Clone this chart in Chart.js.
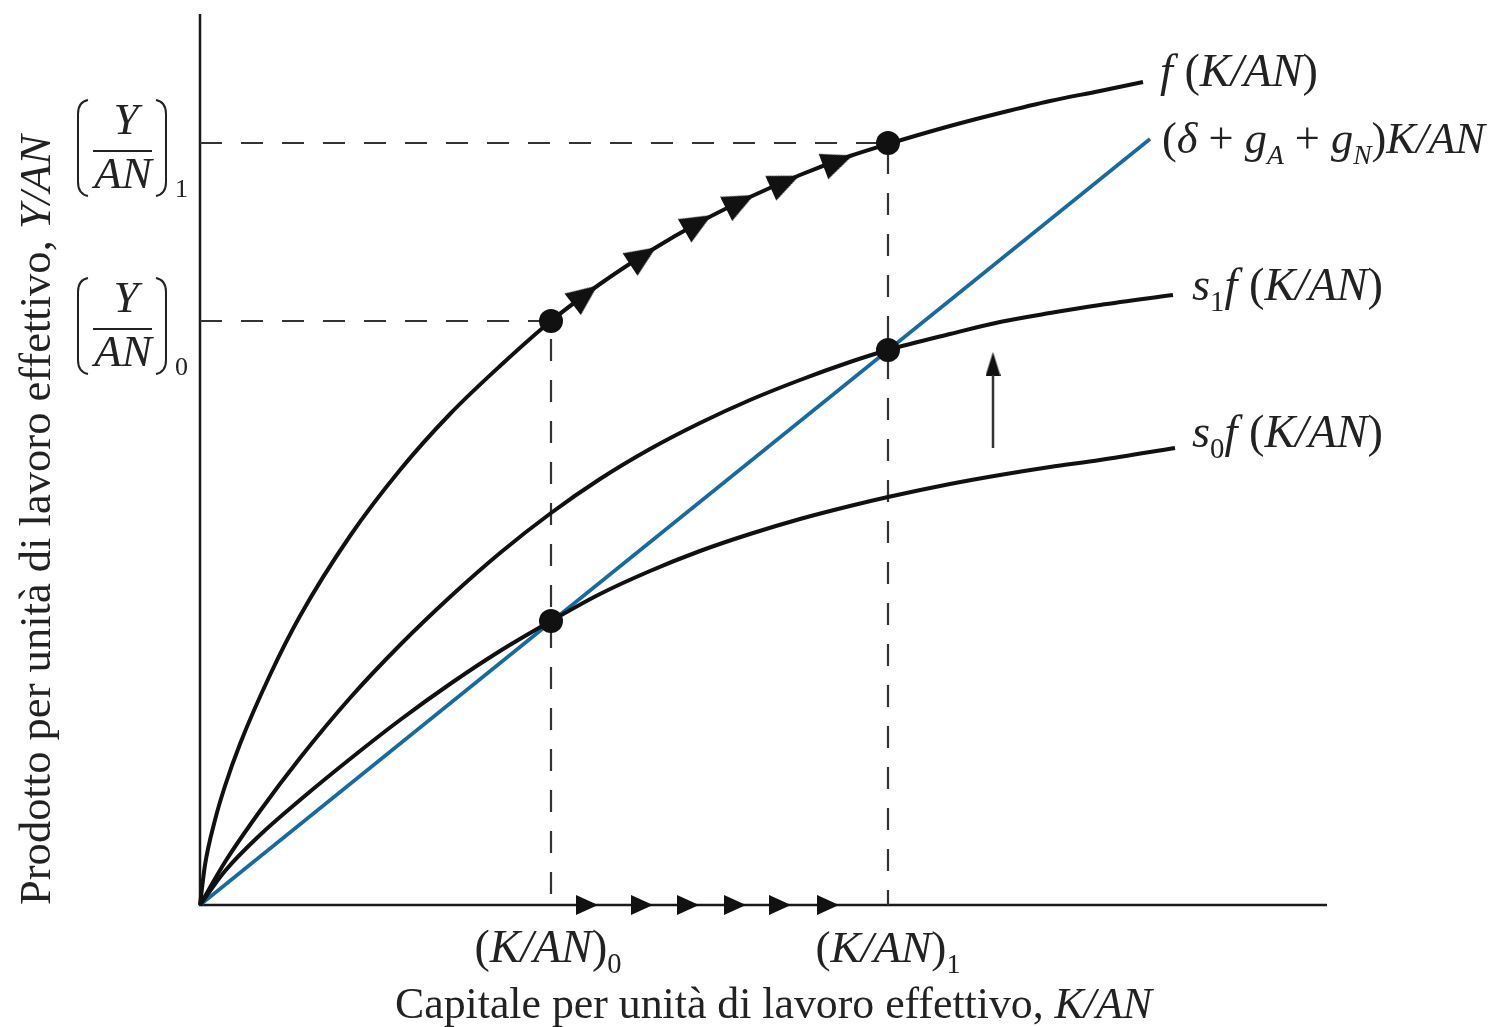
<!DOCTYPE html>
<html>
<head>
<meta charset="utf-8">
<script src="https://cdn.jsdelivr.net/npm/chart.js@4/dist/chart.umd.min.js"></script>
<style>
html,body{margin:0;padding:0;background:#fff;}
#wrap{width:1491px;height:1027px;position:relative;}
</style>
</head>
<body>
<div id="wrap"><canvas id="c"></canvas></div>
<script>
// ---------- data ----------
const fX  = [0, 0.05, 0.15, 0.25, 0.40, 0.70, 1.00, 1.50, 2.00, 2.50, 3.00, 3.51, 4.00, 4.50, 5.00, 5.50, 6.00, 6.50, 6.88, 7.50, 8.00, 8.50, 9.00, 9.43];
const fY  = [0, 0.40, 0.85, 1.19, 1.61, 2.30, 2.89, 3.69, 4.35, 4.91, 5.39, 5.84, 6.21, 6.54, 6.83, 7.08, 7.30, 7.49, 7.61, 7.79, 7.92, 8.04, 8.14, 8.23];
const s1X = [0, 0.25, 0.60, 1.00, 1.50, 2.00, 2.50, 3.00, 3.51, 4.00, 4.50, 5.00, 5.50, 6.00, 6.50, 6.88, 7.50, 8.00, 8.50, 9.00, 9.73];
const s1Y = [0, 0.43, 0.94, 1.47, 2.07, 2.60, 3.08, 3.52, 3.92, 4.26, 4.56, 4.82, 5.05, 5.25, 5.43, 5.55, 5.71, 5.83, 5.92, 6.00, 6.10];
const s0X = [0, 0.25, 0.60, 1.00, 1.50, 2.00, 2.50, 3.00, 3.51, 4.00, 4.50, 5.00, 5.50, 6.00, 6.50, 6.88, 7.50, 8.00, 8.50, 9.00, 9.75];
const s0Y = [0, 0.34, 0.70, 1.05, 1.46, 1.85, 2.21, 2.54, 2.84, 3.11, 3.34, 3.54, 3.71, 3.86, 3.99, 4.08, 4.21, 4.30, 4.38, 4.45, 4.57];
const depX = [0, 9.50];          // (delta + gA + gN) K/AN
const depY = [0, 7.66];
const k0 = 3.51, k1 = 6.88;      // (K/AN)0, (K/AN)1
const y0 = 5.84, y1 = 7.62;      // (Y/AN)0, (Y/AN)1
const eq0 = 2.84, eq1 = 5.55;    // s0 f(k0), s1 f(k1)
const curveArrowX = [3.85, 4.43, 4.98, 5.40, 5.85, 6.38];
const curveArrowY = [6.10, 6.49, 6.82, 7.03, 7.23, 7.44];
const axisArrowX  = [3.87, 4.42, 4.88, 5.35, 5.80, 6.28];
const shiftX = 7.93, shiftFrom = 4.57, shiftTo = 5.30, shiftHead = 5.41;
const xMax = 11.27, yMax = 8.91;

const pts = (xs, ys) => xs.map((x, i) => ({x, y: ys[i]}));
const BLUE = '#176a9f';
const INK = '#111111';

function tri(w, h) {
  const c = document.createElement('canvas');
  c.width = w; c.height = h;
  const g = c.getContext('2d');
  g.fillStyle = INK;
  g.beginPath(); g.moveTo(w / 2, 0); g.lineTo(w, h); g.lineTo(0, h); g.closePath(); g.fill();
  return c;
}
const triCurve = tri(27, 31);
const triAxis = tri(20, 22);
const triUp = tri(15, 24);

function slopeAngle(chart, xs, ys, xv) {
  let i = 0;
  while (i < xs.length - 2 && xs[i + 1] < xv) i++;
  const sx = chart.scales.x, sy = chart.scales.y;
  const dx = sx.getPixelForValue(xs[i + 1]) - sx.getPixelForValue(xs[i]);
  const dy = sy.getPixelForValue(ys[i + 1]) - sy.getPixelForValue(ys[i]);
  const n = Math.hypot(dx, dy);
  return Math.atan2(dx / n, -dy / n) * 180 / Math.PI;
}

const SERIF = '"Liberation Serif", "DejaVu Serif", serif';
function fontOf(s, it) { return (it ? 'italic ' : '') + s.toFixed(2) + 'px ' + SERIF; }
function drawRich(ctx, segs, x, y, size, fitWidth, align) {
  const measure = (sz) => segs.reduce((w, s) => {
    ctx.font = fontOf(s.sub ? sz * 0.62 : sz, s.it);
    return w + ctx.measureText(s.t).width;
  }, 0);
  let sz = size;
  if (fitWidth) sz = size * fitWidth / measure(size);
  const total = measure(sz);
  let cx = align === 'center' ? x - total / 2 : x;
  ctx.textBaseline = 'alphabetic';
  ctx.textAlign = 'left';
  for (const s of segs) {
    const fs = s.sub ? sz * 0.62 : sz;
    ctx.font = fontOf(fs, s.it);
    ctx.fillText(s.t, cx, y + (s.sub ? sz * 0.24 : 0));
    cx += ctx.measureText(s.t).width;
  }
}

function bracketPair(ctx, xl, xr, top, bot) {
  ctx.beginPath();
  ctx.moveTo(xl + 10, top);
  ctx.quadraticCurveTo(xl, top + 2, xl, top + 14);
  ctx.lineTo(xl, bot - 14);
  ctx.quadraticCurveTo(xl, bot - 2, xl + 10, bot);
  ctx.moveTo(xr - 10, top);
  ctx.quadraticCurveTo(xr, top + 2, xr, top + 14);
  ctx.lineTo(xr, bot - 14);
  ctx.quadraticCurveTo(xr, bot - 2, xr - 10, bot);
  ctx.stroke();
}

const annotations = {
  id: 'annotations',
  afterDraw(chart) {
    const ctx = chart.ctx;
    ctx.save();
    ctx.fillStyle = '#222';
    ctx.strokeStyle = '#222';
    // curve labels
    drawRich(ctx, [{t:'f', it:1}, {t:' ('}, {t:'K/AN', it:1}, {t:')'}], 1160, 86, 42, 158);
    drawRich(ctx, [{t:'('}, {t:'δ', it:1}, {t:' + '}, {t:'g', it:1}, {t:'A', it:1, sub:1}, {t:' + '}, {t:'g', it:1}, {t:'N', it:1, sub:1}, {t:')'}, {t:'K/AN', it:1}], 1162, 153, 42, 323);
    drawRich(ctx, [{t:'s', it:1}, {t:'1', sub:1}, {t:'f', it:1}, {t:' ('}, {t:'K/AN', it:1}, {t:')'}], 1192, 300, 42, 191);
    drawRich(ctx, [{t:'s', it:1}, {t:'0', sub:1}, {t:'f', it:1}, {t:' ('}, {t:'K/AN', it:1}, {t:')'}], 1192, 447, 42, 191);
    // x tick labels
    const sx = chart.scales.x;
    drawRich(ctx, [{t:'('}, {t:'K/AN', it:1}, {t:')'}, {t:'0', sub:1}], sx.getPixelForValue(k0) - 3, 962, 42, 147, 'center');
    drawRich(ctx, [{t:'('}, {t:'K/AN', it:1}, {t:')'}, {t:'1', sub:1}], sx.getPixelForValue(k1), 962, 42, 145, 'center');
    // axis titles
    drawRich(ctx, [{t:'Capitale per unità di lavoro effettivo, '}, {t:'K/AN', it:1}], 395, 1018, 40, 757);
    ctx.save();
    ctx.translate(50, 905);
    ctx.rotate(-Math.PI / 2);
    drawRich(ctx, [{t:'Prodotto per unità di lavoro effettivo, '}, {t:'Y/AN', it:1}], 0, 0, 40, 770);
    ctx.restore();
    // y tick labels: fractions in brackets
    const sy = chart.scales.y;
    const fr = [[y1, '1'], [y0, '0']];
    ctx.lineWidth = 2;
    for (const [v, sub] of fr) {
      const p = sy.getPixelForValue(v);
      ctx.font = fontOf(45, true);
      ctx.textAlign = 'center';
      ctx.fillText('Y', 126, p - 9);
      ctx.fillText('AN', 123, p + 45);
      ctx.beginPath(); ctx.moveTo(93, p + 8); ctx.lineTo(152, p + 8); ctx.stroke();
      bracketPair(ctx, 78, 166, p - 43, p + 53);
      ctx.font = fontOf(26, false);
      ctx.textAlign = 'left';
      ctx.fillText(sub, 175, p + 54);
    }
    ctx.restore();
  }
};

const line = (data, color, width, extra) => Object.assign({
  data, showLine: true, borderColor: color, backgroundColor: color,
  borderWidth: width, pointRadius: 0, pointHoverRadius: 0, fill: false,
  cubicInterpolationMode: 'monotone', clip: false
}, extra || {});

new Chart(document.getElementById('c'), {
  type: 'scatter',
  data: {
    datasets: [
      // equilibrium dots
      {data: [{x:k0, y:y0}, {x:k0, y:eq0}, {x:k1, y:y1}, {x:k1, y:eq1}], pointRadius: 12, pointBackgroundColor: INK, pointBorderWidth: 0, showLine: false, clip: false},
      // arrows along f
      {data: pts(curveArrowX, curveArrowY), pointStyle: triCurve, showLine: false, clip: false,
        rotation: (c) => slopeAngle(c.chart, fX, fY, c.raw ? c.raw.x : 0)},
      // arrows along x axis
      {data: axisArrowX.map(x => ({x, y: 0})), pointStyle: triAxis, rotation: 90, showLine: false, clip: false},
      // shift arrow
      line([{x:shiftX, y:shiftFrom}, {x:shiftX, y:shiftTo}], '#333', 2.5),
      {data: [{x:shiftX, y:shiftHead}], pointStyle: triUp, showLine: false, clip: false},
      // curves
      line(pts(fX, fY), INK, 4),
      line(pts(s1X, s1Y), INK, 4),
      line(pts(s0X, s0Y), INK, 4),
      line(pts(depX, depY), BLUE, 3.6, {cubicInterpolationMode: 'default', tension: 0}),
      // dashed guides
      line([{x:0, y:y1}, {x:k1, y:y1}, {x:k1, y:0}], '#333', 2.2, {borderDash: [22, 19], tension: 0, cubicInterpolationMode: 'default'}),
      line([{x:0, y:y0}, {x:k0, y:y0}, {x:k0, y:0}], '#333', 2.2, {borderDash: [22, 19], tension: 0, cubicInterpolationMode: 'default'}),
      // axes
      line([{x:0, y:yMax}, {x:0, y:0}, {x:xMax, y:0}], '#1a1a1a', 2.5, {tension: 0, cubicInterpolationMode: 'default', borderJoinStyle: 'miter'})
    ]
  },
  options: {
    responsive: true,
    maintainAspectRatio: false,
    devicePixelRatio: 1,
    animation: false,
    layout: {padding: {left: 200, right: 164, top: 14, bottom: 122}},
    plugins: {legend: {display: false}, tooltip: {enabled: false}},
    events: [],
    scales: {
      x: {type: 'linear', min: 0, max: xMax, display: false},
      y: {type: 'linear', min: 0, max: yMax, display: false}
    }
  },
  plugins: [annotations]
});
</script>
</body>
</html>
